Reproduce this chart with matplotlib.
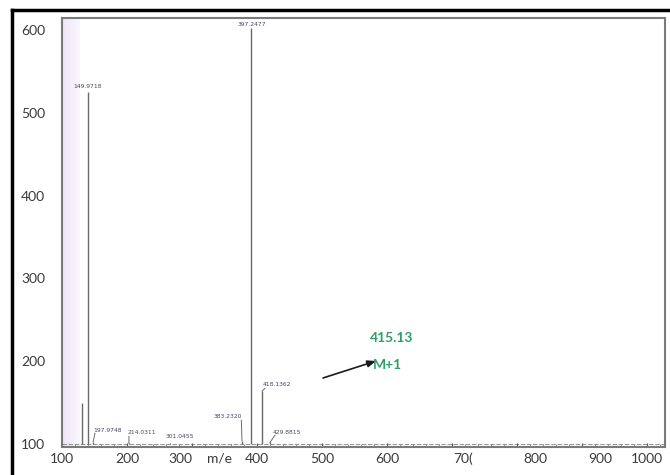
import matplotlib
matplotlib.use("Agg")
import matplotlib.pyplot as plt
from matplotlib.lines import Line2D
from matplotlib.transforms import ScaledTranslation
import numpy as np

# ---- data ----
peak_x = [131, 140, 148, 203, 266, 377, 391, 408, 420]
peak_y = [150, 525, 103, 101, 101, 104, 602, 164, 102]
peak_labels = ["", "149.9718", "197.9748", "214.0311", "301.0455",
               "383.2320", "397.2477", "418.1362", "429.8815"]
x_ticks = [100, 200, 300, 400, 500, 600, 700, 800, 900, 1000]
x_tick_labels = ["100", "200", "300", "400", "500", "600", "70(", "800", "900", "1000"]
y_ticks = [100, 200, 300, 400, 500, 600]
annot_value = "415.13"
annot_ion = "M+1"

# ---- figure ----
W, H = 670, 475
fig = plt.figure(figsize=(W / 100, H / 100), dpi=100)
fig.patch.set_facecolor("white")

L, R, T, B = 62, 665, 18, 447
ax = fig.add_axes([L / W, 1 - B / H, (R - L) / W, (B - T) / H])
xlim = (100, 1028)
ylim = (96.5, 614.5)
ax.set_xlim(*xlim)
ax.set_ylim(*ylim)

def px2data(px, py):
    x = xlim[0] + (px - L) / (R - L) * (xlim[1] - xlim[0])
    y = ylim[1] - (py - T) / (B - T) * (ylim[1] - ylim[0])
    return x, y

# lavender band on the left (fading to the right)
band_x = np.linspace(100, 128, 30)
for i in range(len(band_x) - 1):
    a = 0.8 - 0.55 * i / (len(band_x) - 2)
    ax.axvspan(band_x[i], band_x[i + 1], color="#eadff6", alpha=a, lw=0, zorder=0)

# baseline noise line
ax.axhline(100, color="#9a9a9a", lw=0.8, ls=(0, (4, 1.5)), zorder=1)

# peaks
ax.vlines(peak_x, 100, peak_y, color="#6a6a6a", lw=1.0, zorder=2)

# label placement (pixel positions of text anchors, plus leader flag)
label_px = {
    "149.9718": (88, 87, "center", False),
    "197.9748": (93, 430, "left", True),
    "214.0311": (127, 433, "left", True),
    "301.0455": (166, 437, "left", False),
    "383.2320": (242, 417, "right", True),
    "397.2477": (252, 24, "center", False),
    "418.1362": (263, 385, "left", True),
    "429.8815": (273, 432, "left", True),
}
for x, y, lab in zip(peak_x, peak_y, peak_labels):
    if not lab:
        continue
    px, py, ha, leader = label_px[lab]
    tx, ty = px2data(px, py)
    ax.text(tx, ty, lab, fontsize=4.3, color="#44466a", ha=ha, va="center",
            family="DejaVu Sans", zorder=3)
    if leader:
        ax.plot([x, tx + (3 if ha == "left" else -1)], [y, ty - 4],
                color="#6a6a6a", lw=0.7, zorder=2)

# arrow and green annotation
x0, y0 = px2data(323, 378)
x1, y1 = px2data(376, 361)
ax.annotate("", xy=(x1, y1), xytext=(x0, y0),
            arrowprops=dict(arrowstyle="-|>,head_length=0.5,head_width=0.2",
                            color="#1a1a1a", lw=1.2, shrinkA=0, shrinkB=0))
gx, gy = px2data(392, 338)
ax.text(gx, gy, annot_value, color="#2e9e6c", fontsize=10, ha="center",
        va="center", family="Lato", fontweight="bold")
mx, my = px2data(387, 365)
ax.text(mx, my, annot_ion, color="#2e9e6c", fontsize=10, ha="center",
        va="center", family="Lato", fontweight="bold")

# ticks
ax.set_xticks(x_ticks)
ax.set_xticklabels(x_tick_labels)
ax.set_yticks(y_ticks)
ax.set_xticks(np.arange(100, 1021, 20), minor=True)
ax.tick_params(axis="x", which="major", length=3, direction="in", pad=4,
               labelsize=10, colors="#555555", labelcolor="#3a3a3a")
ax.tick_params(axis="x", which="minor", length=2, direction="in", colors="#888888")
ax.tick_params(axis="y", length=0, pad=12, labelsize=10, labelcolor="#3a3a3a")
for lab in ax.get_xticklabels() + ax.get_yticklabels():
    lab.set_family("Lato")

# the scanned tick labels sit slightly off their ticks (pixel shifts)
label_shift_px = [0, 0, -12, 0, 0, 0, 11, 19, 18, 0]
for lab, dx in zip(ax.get_xticklabels(), label_shift_px):
    lab.set_transform(lab.get_transform() +
                      ScaledTranslation(dx / 100, 0, fig.dpi_scale_trans))

# m/e label sitting in the tick row
mex, _ = px2data(219, 0)
ax.text(mex, -4 / 72 * 100 / (B - T), "m/e", transform=ax.get_xaxis_transform(),
        fontsize=10, color="#3a3a3a", ha="center", va="top", family="Lato")

for s in ax.spines.values():
    s.set_color("#7a7a7a")
    s.set_linewidth(1.5)

# outer black frame (left and top)
fig.add_artist(Line2D([12 / W, 12 / W], [0, 1 - 10 / H],
                      transform=fig.transFigure, color="black", lw=2.5))
fig.add_artist(Line2D([12 / W, 1], [1 - 10 / H, 1 - 10 / H],
                      transform=fig.transFigure, color="black", lw=2.5))

fig.savefig("out.png", dpi=100, facecolor="white")
